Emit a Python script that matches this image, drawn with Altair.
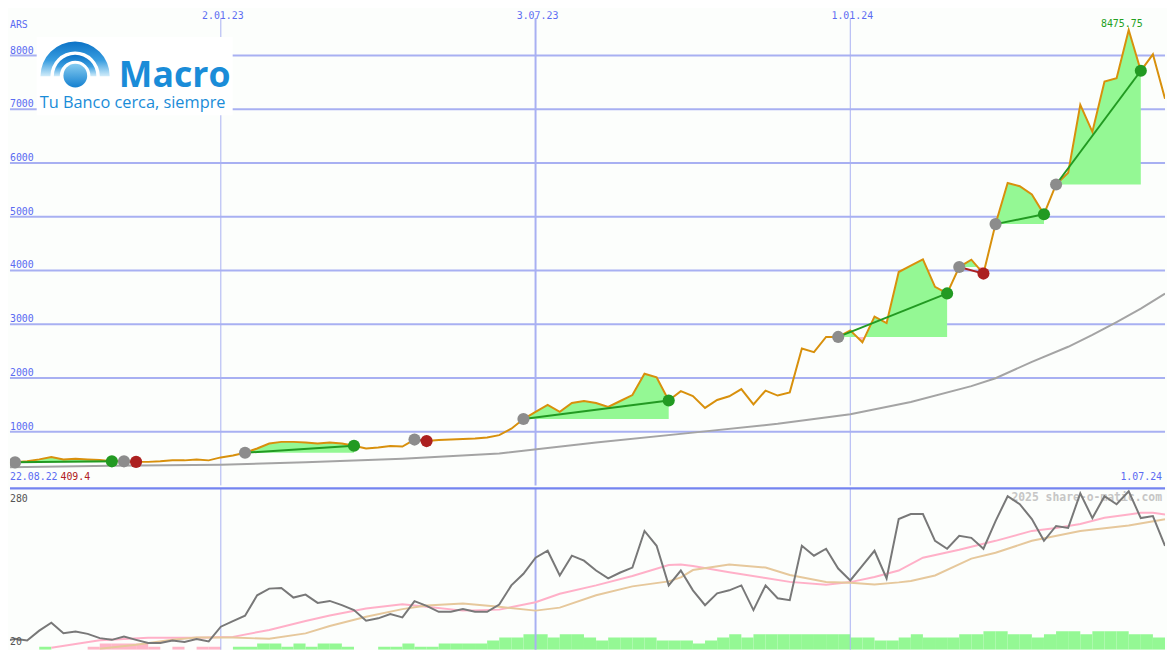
import altair as alt
import pandas as pd

# ---------------- data ----------------
WEEK0 = "2022-08-29"          # first weekly close (Mondays)
price = [409.4, 429, 448, 484, 527, 484, 494, 484, 475, 448,
         448, 438, 438, 448, 466, 466, 484, 466, 521, 558,
         608, 687, 779, 810, 810, 797, 779, 797, 779, 737,
         687, 705, 733, 724, 853, 825, 844, 853, 862, 871,
         890, 936, 1055, 1235, 1369, 1498, 1369, 1534, 1571, 1534,
         1461, 1571, 1682, 2078, 2013, 1580, 1755, 1663, 1442, 1590,
         1658, 1792, 1507, 1765, 1672, 1731, 2547, 2479, 2763, 2763,
         2885, 2663, 3142, 3021, 3971, 4089, 4205, 3695, 3573, 4064,
         4200, 3942, 4863, 5629, 5568, 5415, 5047, 5600, 5818, 7084,
         6581, 7515, 7576, 8475.75, 7717, 8023, 7194]

ma_weeks = [0, 9, 18, 25, 33, 41, 49, 57, 64, 70, 75, 80, 82, 85, 88, 90, 92, 94, 96]
ma_values = [337, 365, 383, 429, 494, 595, 798, 982, 1147, 1323, 1553, 1847, 1995,
             2300, 2580, 2800, 3040, 3290, 3570]

trade_start = [1, 10, 20, 34, 43, 69, 79, 82, 87]
trade_end = [9, 11, 29, 35, 55, 78, 81, 86, 94]

grid_values = [1000, 2000, 3000, 4000, 5000, 6000, 7000, 8000]
grid_labels = ["1000", "2000", "3000", "4000", "5000", "6000", "7000", "8000"]
month_dates = ["2023-01-02", "2023-07-03", "2024-01-01"]
month_labels = ["2.01.23", "3.07.23", "1.01.24"]
month_widths = [1, 2, 1]

osc = [26.0, 30.8, 27.8, 45.8, 60.3, 41.1, 44.0, 39.9, 32.1, 29.0,
       35.0, 29.0, 23.1, 23.1, 27.8, 24.9, 30.3, 26.0, 53.0, 63.3,
       72.9, 110.3, 122.4, 123.5, 106.1, 111.5, 96.4, 100.0, 92.2, 83.2,
       63.9, 68.2, 76.0, 70.0, 99.5, 91.0, 80.1, 80.1, 85.0, 80.1,
       80.1, 93.5, 128.3, 149.5, 178.9, 191.5, 146.4, 182.5, 173.5, 155.4,
       141.0, 151.8, 160.8, 227.7, 200.6, 128.3, 155.4, 119.3, 92.2, 113.9,
       119.3, 128.3, 83.2, 128.3, 104.9, 101.3, 200.6, 182.5, 195.2, 159.0,
       137.4, 164.5, 191.5, 141.0, 249.3, 258.4, 258.4, 209.6, 195.2, 218.6,
       215.0, 195.2, 245.7, 290.9, 276.4, 249.3, 209.6, 236.7, 233.1, 296.3,
       251.1, 290.9, 276.4, 299.9, 251.1, 254.7, 200.6]

pink_weeks = [4, 8, 12, 16, 19, 22, 25, 27, 30, 33, 35, 38, 41, 44, 46, 49, 52, 55, 56, 57,
              60, 63, 65, 68, 70, 72, 74, 76, 79, 82, 85, 87, 89, 91, 93, 94, 95, 96]
pink_vals = [14.6, 28.1, 32.6, 32.6, 34.4, 47.1, 63.3, 73.3, 86.3, 94.0, 89.5, 82.3, 84.1,
             97.6, 113.0, 128.3, 145.5, 165.4, 166.3, 163.6, 152.4, 141.9, 134.7, 129.6,
             134.3, 143.7, 155.4, 178.9, 193.3, 209.6, 227.7, 233.1, 240.3, 251.7, 257.8,
             260.7, 260.7, 257.8]
tan_weeks = [8, 11, 14, 16, 19, 22, 25, 27, 30, 33, 35, 38, 41, 44, 46, 49, 52, 55, 56, 57,
             60, 63, 65, 68, 70, 72, 74, 75, 77, 80, 82, 85, 89, 93, 96]
tan_vals = [12.8, 20.0, 29.0, 33.2, 33.2, 30.8, 40.8, 54.3, 71.1, 85.0, 91.7, 95.3, 89.2,
            82.3, 87.7, 110.3, 126.5, 135.6, 142.8, 156.3, 166.3, 160.8, 147.3, 134.7,
            133.2, 129.8, 133.8, 136.5, 146.4, 177.1, 187.9, 209.6, 227.7, 237.6, 248.8]

flow_weeks = [3, 7, 8, 9, 10, 11, 12, 14, 16, 17, 19, 20, 21, 22, 23, 24, 25, 26, 27, 28,
              31, 32, 33, 34, 35, 36, 37, 38, 39, 40, 41, 42, 43, 44, 45, 46, 47, 48, 49, 50,
              51, 52, 53, 54, 55, 56, 57, 58, 59, 60, 61, 62, 63, 64, 65, 66, 67, 68, 69, 70,
              71, 72, 73, 74, 75, 76, 77, 78, 79, 80, 81, 82, 83, 84, 85, 86, 87, 88, 89, 90,
              91, 92, 93, 94, 95, 96]
flow_levels = [1, 1, 2, 2, 2, 2, 1, 1, 1, 1, 1, 1, 2, 2, 1, 2, 1, 2, 2, 1,
               1, 1, 2, 1, 1, 2, 2, 2, 2, 3, 4, 4, 5, 5, 4, 5, 5, 4, 3, 4,
               4, 4, 4, 3, 3, 3, 2, 3, 4, 5, 4, 5, 5, 5, 5, 5, 5, 5, 5, 4,
               4, 3, 3, 4, 5, 4, 4, 4, 5, 5, 6, 6, 5, 5, 4, 5, 6, 6, 5, 6,
               6, 6, 5, 5, 4, 4]
flow_kinds = ["up"] + ["down"] * 9 + ["up"] * 76

# ---------------- helpers ----------------
BASE = pd.Timestamp(WEEK0)


def ts(k, frac=0.0):
    t = BASE + pd.Timedelta(days=7 * (k + frac))
    return t.strftime("%Y-%m-%dT%H:%M:%SZ")


def ms(s):
    return int(pd.Timestamp(s).value // 10**6)


BG = "#fcfefc"
GRID = "#a8b0f2"
BLUE_TXT = "#5b6bf2"
MONO = "DejaVu Sans Mono"
XS = alt.Scale(type="utc", domain=[ms("2022-09-02 01:53"), ms("2024-07-01 00:00")])
YS = alt.Scale(domain=[0, 8823], nice=False, zero=False)
LS = alt.Scale(domain=[11, 305.3], nice=False, zero=False)
BS = alt.Scale(domain=[0, 52.6], nice=False, zero=False)
W, H1, H2 = 1167, 479, 163


def X(f="date"):
    return alt.X(f"{f}:T", scale=XS, axis=None)


def Y(f, s=YS):
    return alt.Y(f"{f}:Q", scale=s, axis=None)


# ---------------- tables ----------------
price_df = pd.DataFrame({"date": [ts(k) for k in range(len(price))], "v": price})
ma_df = pd.DataFrame({"date": [ts(k) for k in ma_weeks], "v": ma_values})
grid_df = pd.DataFrame({"v": grid_values, "label": grid_labels})
month_df = pd.DataFrame({"date": [d + "T00:00:00Z" for d in month_dates], "label": month_labels,
                         "w": month_widths, "top": 8700, "bot": 0})

fill_rows, tline_rows, dot_rows = [], [], []
for i, (s, e) in enumerate(zip(trade_start, trade_end)):
    b = price[s]
    outcome = "win" if price[e] > b else "loss"
    for k in range(s, e + 1):
        p = price[k]
        fill_rows.append(dict(trade=i, date=ts(k), hi=max(p, b), lo=min(p, b), base=b))
        if k < e:
            q = price[k + 1]
            if (p - b) * (q - b) < 0:
                f = (b - p) / (q - p)
                fill_rows.append(dict(trade=i, date=ts(k, f), hi=b, lo=b, base=b))
    tline_rows += [dict(trade=i, date=ts(s), v=b, kind=outcome),
                   dict(trade=i, date=ts(e), v=price[e], kind=outcome)]
    dot_rows += [dict(date=ts(s), v=b, kind="open"), dict(date=ts(e), v=price[e], kind=outcome)]
fill_df = pd.DataFrame(fill_rows)
tline_df = pd.DataFrame(tline_rows)
dot_df = pd.DataFrame(dot_rows)

kind_scale = alt.Scale(domain=["open", "win", "loss"], range=["#8c8c8c", "#229a22", "#ac2020"])

one = pd.DataFrame({"a": [0]})

# ---------------- main panel ----------------
hgrid = alt.Chart(grid_df).mark_rule(color=GRID, strokeWidth=2).encode(y=Y("v"))
vgrid = alt.Chart(month_df).mark_rule(color=GRID).encode(
    x=X(), y=Y("top"), y2="bot:Q", strokeWidth=alt.StrokeWidth("w:Q", scale=None, legend=None))
ma_line = alt.Chart(ma_df).mark_line(color="#a4a4a4", strokeWidth=2, clip=True).encode(x=X(), y=Y("v"))
fill_up = alt.Chart(fill_df).mark_area(color="#94f894", clip=True).encode(
    x=X(), y=Y("hi"), y2="base:Q", detail="trade:N")
fill_dn = alt.Chart(fill_df).mark_area(color="#ffb8c8", clip=True).encode(
    x=X(), y=Y("lo"), y2="base:Q", detail="trade:N")
price_line = alt.Chart(price_df).mark_line(color="#d8900c", strokeWidth=2, clip=True).encode(
    x=X(), y=Y("v"))
tlines = alt.Chart(tline_df).mark_line(strokeWidth=2, clip=True).encode(
    x=X(), y=Y("v"), detail="trade:N", color=alt.Color("kind:N", scale=kind_scale, legend=None))
dots = alt.Chart(dot_df).mark_circle(size=150, opacity=1, clip=True).encode(
    x=X(), y=Y("v"), color=alt.Color("kind:N", scale=kind_scale, legend=None))

# logo
logo_box = alt.Chart(one).mark_rect(color="#ffffff").encode(
    x=alt.value(27), x2=alt.value(225), y=alt.value(26), y2=alt.value(105))
ring_grad = alt.LinearGradient(gradient="linear", x1=0, x2=0, y1=0, y2=1,
                               stops=[alt.GradientStop(offset=0, color="#0b72c6"),
                                      alt.GradientStop(offset=0.55, color="#3a9ee0"),
                                      alt.GradientStop(offset=1, color="#d0ecfa")])
ball_grad = alt.LinearGradient(gradient="linear", x1=0, x2=0, y1=0, y2=1,
                               stops=[alt.GradientStop(offset=0, color="#86ccf0"),
                                      alt.GradientStop(offset=1, color="#1480d0")])
outer = alt.Chart(one).mark_arc(fill=ring_grad).encode(
    x=alt.value(65.8), y=alt.value(65.5), theta=alt.value(4.712), theta2=alt.value(7.854),
    radius=alt.value(35), radius2=alt.value(25))
inner = alt.Chart(one).mark_arc(fill=ring_grad).encode(
    x=alt.value(65.8), y=alt.value(65.5), theta=alt.value(4.712), theta2=alt.value(7.854),
    radius=alt.value(21.5), radius2=alt.value(15.5))
ball = alt.Chart(one).mark_arc(fill=ball_grad).encode(
    x=alt.value(66), y=alt.value(65), theta=alt.value(0), theta2=alt.value(6.2832),
    radius=alt.value(12))
macro = alt.Chart(one).mark_text(text="Macro", font="Open Sans", fontWeight="bold", fontSize=36,
                                 color="#1a8cd8", align="left", baseline="alphabetic").encode(
    x=alt.value(110), y=alt.value(76))
slogan = alt.Chart(one).mark_text(text="Tu Banco cerca, siempre", font="Open Sans", fontSize=16.5,
                                  color="#1a8cd8", align="left", baseline="alphabetic").encode(
    x=alt.value(30), y=alt.value(98))

# labels
glabels = alt.Chart(grid_df).mark_text(align="left", baseline="alphabetic", dy=-2, font=MONO,
                                       fontSize=10, color=BLUE_TXT, clip=True).encode(
    x=alt.value(0), y=Y("v"), text="label:N")
mlabels = alt.Chart(month_df).mark_text(baseline="alphabetic", font=MONO, fontSize=10,
                                        color=BLUE_TXT, dx=2, clip=True).encode(
    x=X(), y=alt.value(7.5), text="label:N")
ars = alt.Chart(one).mark_text(text="ARS", align="left", baseline="alphabetic", font=MONO,
                               fontSize=10, color=BLUE_TXT).encode(x=alt.value(0), y=alt.value(17))
max_df = pd.DataFrame({"date": [ts(price.index(max(price)))], "v": [max(price)],
                       "label": ["%.2f" % max(price)]})
max_lbl = alt.Chart(max_df).mark_text(baseline="alphabetic", dx=-7, dy=-3, font=MONO, fontSize=10,
                                      color="#22a022", clip=True).encode(x=X(), y=Y("v"), text="label:N")
first_date = alt.Chart(one).mark_text(text="22.08.22", align="left", baseline="alphabetic",
                                      font=MONO, fontSize=10, color=BLUE_TXT).encode(
    x=alt.value(0), y=alt.value(474))
first_val = alt.Chart(one).mark_text(text="%.1f" % price[0], align="left", baseline="alphabetic",
                                     font=MONO, fontSize=10, color="#b02020").encode(
    x=alt.value(51), y=alt.value(474))
last_date = alt.Chart(one).mark_text(text="1.07.24", align="right", baseline="alphabetic",
                                     font=MONO, fontSize=10, color=BLUE_TXT).encode(
    x=alt.value(1164), y=alt.value(474))

main = alt.layer(hgrid, vgrid, ma_line, fill_up, fill_dn, price_line, tlines, dots,
                 logo_box, outer, inner, ball, macro, slogan,
                 glabels, mlabels, ars, max_lbl, first_date, first_val, last_date
                 ).properties(width=W, height=H1)

# ---------------- lower panel ----------------
osc_df = pd.DataFrame({"date": [ts(k) for k in range(len(osc))], "v": osc})
pink_df = pd.DataFrame({"date": [ts(k) for k in pink_weeks], "v": pink_vals})
tan_df = pd.DataFrame({"date": [ts(k) for k in tan_weeks], "v": tan_vals})
flow_df = pd.DataFrame({"date": [ts(k) for k in flow_weeks], "date2": [ts(k + 1) for k in flow_weeks],
                        "lvl": flow_levels, "kind": flow_kinds})
low_lbl_df = pd.DataFrame({"v": [280, 20], "label": ["280", "20"]})

bars_up = alt.Chart(flow_df[flow_df.kind == "up"]).mark_rect(color="#94f894", clip=True).encode(
    x=X(), x2="date2:T", y=Y("lvl", BS), y2=alt.Y2Datum(0))
bars_dn = alt.Chart(flow_df[flow_df.kind == "down"]).mark_rect(color="#ffb6c8", clip=True).encode(
    x=X(), x2="date2:T", y=Y("lvl", BS), y2=alt.Y2Datum(0))
bars = alt.layer(bars_up, bars_dn)
lgrid = alt.Chart(month_df).mark_rule(color=GRID).encode(
    x=X(), strokeWidth=alt.StrokeWidth("w:Q", scale=None, legend=None))
pink_line = alt.Chart(pink_df).mark_line(color="#ffb0c8", strokeWidth=2, clip=True).encode(
    x=X(), y=Y("v", LS))
tan_line = alt.Chart(tan_df).mark_line(color="#e6c89c", strokeWidth=2, clip=True).encode(
    x=X(), y=Y("v", LS))
osc_line = alt.Chart(osc_df).mark_line(color="#787878", strokeWidth=2, clip=True).encode(
    x=X(), y=Y("v", LS))
low_lbls = alt.Chart(low_lbl_df).mark_text(align="left", baseline="alphabetic", font=MONO,
                                           fontSize=10, color="#555555", clip=True).encode(
    x=alt.value(0), y=Y("v", LS), text="label:N")
wm = alt.Chart(one).mark_text(text="2025 share-o-matic.com", align="right", baseline="alphabetic",
                              font=MONO, fontWeight="bold", fontSize=11.5, color="#c6c6c6").encode(
    x=alt.value(1164), y=alt.value(13))
sep = alt.Chart(one).mark_rule(color="#7484f0", strokeWidth=2.5).encode(
    x=alt.value(0), x2=alt.value(W), y=alt.value(0))

lines = alt.layer(lgrid, wm, pink_line, tan_line, osc_line, low_lbls, sep)
lower = alt.layer(bars, lines).resolve_scale(y="independent").properties(width=W, height=H2)

chart = alt.vconcat(main, lower, spacing=0).properties(
    padding=0, background=BG).configure_view(stroke=None)

chart.save("out.html", embed_options={"renderer": "svg", "actions": False})
